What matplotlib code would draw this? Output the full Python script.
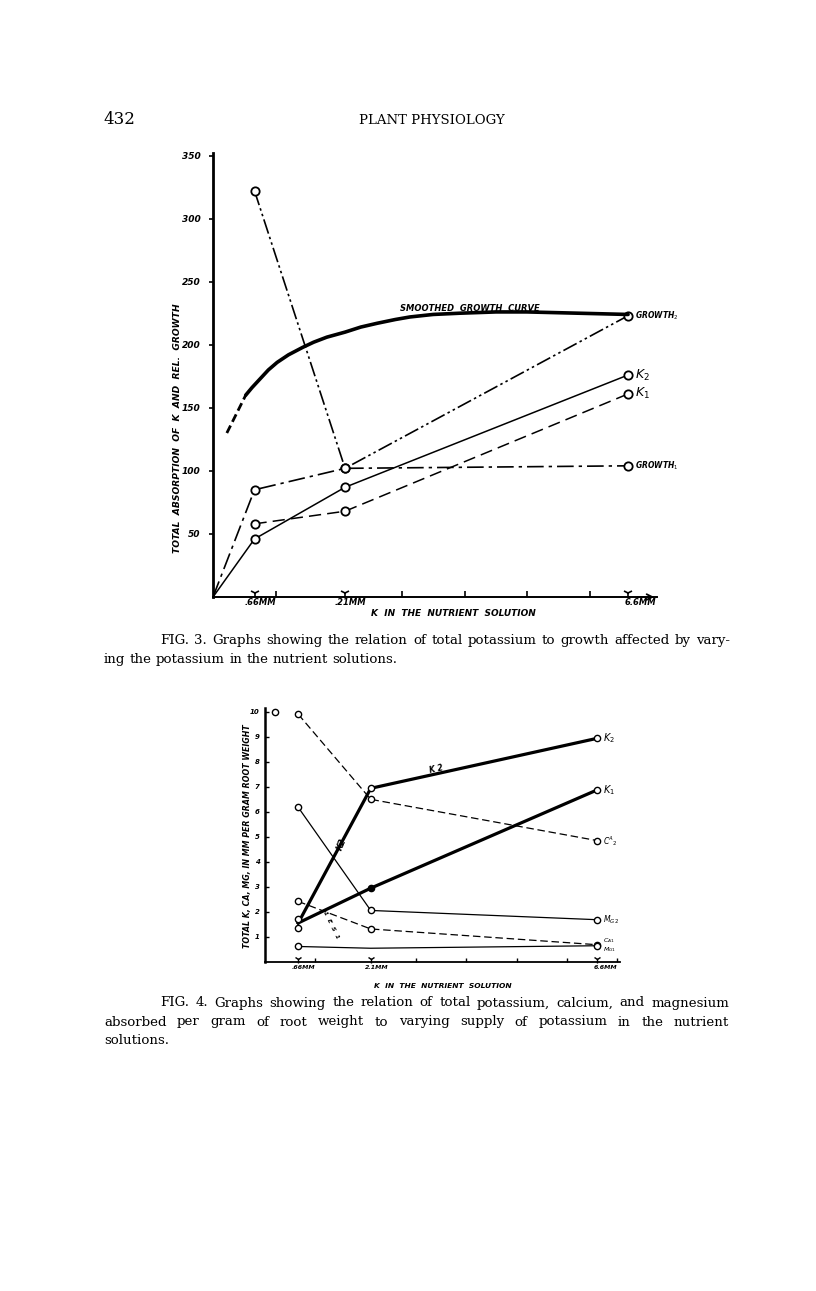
import numpy as np
import matplotlib
matplotlib.use("Agg")
import matplotlib.pyplot as plt
from matplotlib.transforms import ScaledTranslation

W, H = 816, 1291

# ---- Fig. 3 data: total absorption of K and relative growth ----
conc = [0.66, 2.1, 6.6]
conc_labels3 = [".66MM", ".21MM", "6.6MM"]
growth2 = [322, 102, 223]
growth1_x = [0, 0.66, 2.1, 6.6]
growth1 = [0, 85, 102, 104]
k2_x = [0, 0.66, 2.1, 6.6]
k2 = [0, 46, 87, 176]
k1 = [58, 68, 161]
smooth_x = [0.52, 0.62, 0.75, 0.88, 1.02, 1.2, 1.43, 1.6, 1.81, 2.1, 2.35, 2.61,
            2.9, 3.13, 3.5, 3.93, 4.5, 4.99, 5.8, 6.6]
smooth_y = [160, 166, 173, 180, 186, 192, 198, 202, 206, 210, 214, 217,
            220, 222, 224, 225, 226, 226, 225, 224]
smooth_dash_x = [0.22, 0.3, 0.38, 0.45, 0.52]
smooth_dash_y = [130, 138, 146, 153, 160]
yticks3 = [50, 100, 150, 200, 250, 300, 350]
xticks3 = [1, 3, 4, 5, 6]

# ---- Fig. 4 data: K, Ca, Mg per gram root weight ----
conc_labels4 = [".66MM", "2.1MM", "6.6MM"]
k2_root = [1.56, 6.94, 8.94]
k1_root = [1.56, 2.95, 6.88]
k_obs_066 = [1.7, 1.36]
ca2_root = [9.9, 6.5, 4.85]
ca1_root = [2.42, 1.32, 0.69]
mg2_root = [6.18, 2.06, 1.69]
mg1_root = [0.62, 0.55, 0.65]
stray_x, stray_y = [0.2], [10.0]
yticks4 = [1, 2, 3, 4, 5, 6, 7, 8, 9, 10]
xticks4 = [1, 3, 4, 5, 6, 7]

cap3 = ["FIG. 3.  Graphs showing the relation of total potassium to growth affected by vary-",
        "ing the potassium in the nutrient solutions."]
cap4 = ["FIG. 4.  Graphs showing the relation of total potassium, calcium, and magnesium",
        "absorbed per gram of root weight to varying supply of potassium in the nutrient",
        "solutions."]

hand = dict(family="DejaVu Sans", fontweight="bold", fontstyle="italic")
serif = dict(family="DejaVu Serif")


def fx(x):
    return x / W


def fy(y):
    return 1 - y / H


fig = plt.figure(figsize=(W / 100, H / 100), dpi=100)
fig.patch.set_facecolor("white")


def justify(line, x0, x1, y, size, last=False):
    r = fig.canvas.get_renderer()
    words = line.split()
    ts = [fig.text(0, fy(y), w, va="center", ha="left", fontsize=size, **serif) for w in words]
    ws = [t.get_window_extent(r).width for t in ts]
    if last or len(words) == 1:
        gap = size * 100 / 72 * 0.32
    else:
        gap = (x1 - x0 - sum(ws)) / (len(words) - 1)
    x = x0
    for t, w in zip(ts, ws):
        t.set_x(fx(x))
        x += w + gap


def style_axes(ax):
    for s in ["top", "right"]:
        ax.spines[s].set_visible(False)
    ax.set_facecolor("none")


# header
fig.text(fx(103), fy(119), "432", fontsize=12, va="center", ha="left", **serif)
fig.text(fx(432), fy(120), "PLANT PHYSIOLOGY", fontsize=9.5, va="center", ha="center", **serif)

# ================= Fig. 3 =================
ax3 = fig.add_axes([fx(213), fy(597), 444 / W, 444 / H])
style_axes(ax3)
ax3.set_xlim(0, 7.06)
ax3.set_ylim(0, 352)
ax3.spines["left"].set_linewidth(2.0)
ax3.spines["bottom"].set_linewidth(1.4)
ax3.set_yticks(yticks3)
ax3.set_yticklabels([str(v) for v in yticks3], fontsize=6.5, **hand)
ax3.tick_params(axis="y", direction="out", length=3, width=1.2, pad=6)
ax3.set_xticks(xticks3)
ax3.set_xticklabels([])
ax3.tick_params(axis="x", direction="in", length=4, width=1.2)
ax3.annotate("", xy=(1.0, 0), xytext=(0.95, 0), xycoords="axes fraction",
             arrowprops=dict(arrowstyle="->", lw=1.3, color="black"))

mk = dict(marker="o", mfc="white", mec="black", ms=6, mew=1.3, color="black")
ax3.plot(conc, growth2, ls=(0, (9, 2, 1.5, 2, 1.5, 2)), lw=1.2, **mk)
ax3.plot(growth1_x, growth1, ls=(0, (10, 3, 2, 3)), lw=1.2, markevery=[1, 2, 3], **mk)
ax3.plot(k2_x, k2, ls="-", lw=1.1, markevery=[1, 2, 3], **mk)
ax3.plot(conc, k1, ls=(0, (8, 4)), lw=1.1, **mk)
ax3.plot(smooth_x, smooth_y, color="black", lw=2.6, solid_capstyle="round",
         solid_joinstyle="round")
ax3.plot(smooth_dash_x, smooth_dash_y, color="black", lw=2.0, ls=(0, (3, 1.5)))

off3 = ScaledTranslation(0, 3 / 72, fig.dpi_scale_trans)
ax3.plot(conc, np.zeros(len(conc)), ls="none", marker="1", ms=7, mew=1.2,
         color="black", clip_on=False, transform=ax3.transData + off3)
for c, lab, dx in zip(conc, conc_labels3, [4, 4, 9]):
    ax3.annotate(lab, xy=(c, 0), xytext=(dx, -4), textcoords="offset points",
                 ha="center", va="center", fontsize=6, **hand)

ax3.text(4.09, 229, "SMOOTHED  GROWTH  CURVE", ha="center", va="center", fontsize=6, **hand)
ax3.annotate(r"GROWTH$_{2}$", xy=(6.6, growth2[2]), xytext=(5, 0), textcoords="offset points",
             ha="left", va="center", fontsize=5.5, **hand)
ax3.annotate(r"GROWTH$_{1}$", xy=(6.6, growth1[3]), xytext=(5, 0), textcoords="offset points",
             ha="left", va="center", fontsize=5.5, **hand)
ax3.annotate(r"K$_{2}$", xy=(6.6, k2[3]), xytext=(5, 0), textcoords="offset points",
             ha="left", va="center", fontsize=9, family="DejaVu Sans", fontstyle="italic")
ax3.annotate(r"K$_{1}$", xy=(6.6, k1[2]), xytext=(5, 0), textcoords="offset points",
             ha="left", va="center", fontsize=9, family="DejaVu Sans", fontstyle="italic")

fig.text(fx(178), fy(428), "TOTAL  ABSORPTION  OF  K  AND  REL.  GROWTH", rotation=90,
         ha="center", va="center", fontsize=6.6, **hand)
fig.text(fx(453), fy(613), "K  IN  THE  NUTRIENT  SOLUTION", ha="center", va="center",
         fontsize=6.5, **hand)

for i, line in enumerate(cap3):
    if i == 0:
        justify(line, 160, 730, 640, 9.6)
    else:
        justify(line, 104, 730, 659, 9.6, last=True)

# ================= Fig. 4 =================
ax4 = fig.add_axes([fx(265), fy(962), 355 / W, 254 / H])
style_axes(ax4)
ax4.set_xlim(0, 7.05)
ax4.set_ylim(0, 10.15)
ax4.spines["left"].set_linewidth(1.8)
ax4.spines["bottom"].set_linewidth(1.3)
ax4.set_yticks(yticks4)
ax4.set_yticklabels([str(v) for v in yticks4], fontsize=5, **hand)
ax4.tick_params(axis="y", direction="in", length=3, width=1.0, pad=4)
ax4.set_xticks(xticks4)
ax4.set_xticklabels([])
ax4.tick_params(axis="x", direction="in", length=3, width=1.0)

mk4 = dict(marker="o", mfc="white", mec="black", ms=4.5, mew=1.0, color="black")
ax4.plot(conc, k2_root, lw=2.3, markevery=[1, 2], **mk4)
ax4.plot(conc, k1_root, lw=2.3, markevery=[2], **mk4)
ax4.plot(conc[1], k1_root[1], ls="none", marker="o", ms=4.5, color="black")
ax4.plot([conc[0]] * len(k_obs_066), k_obs_066, ls="none", **mk4)
ax4.plot(conc, ca2_root, lw=0.9, ls=(0, (6, 3)), **mk4)
ax4.plot(conc, ca1_root, lw=0.9, ls=(0, (6, 3)), **mk4)
ax4.plot(conc, mg2_root, lw=0.9, **mk4)
ax4.plot(conc, mg1_root, lw=0.9, markevery=[0, 2], **mk4)
ax4.plot(stray_x, stray_y, ls="none", clip_on=False, **mk4)

off4 = ScaledTranslation(0, 2 / 72, fig.dpi_scale_trans)
ax4.plot(conc, np.zeros(len(conc)), ls="none", marker="1", ms=5.5, mew=1.0,
         color="black", clip_on=False, transform=ax4.transData + off4)
for c, lab, dx in zip(conc, conc_labels4, [4, 4, 6]):
    ax4.annotate(lab, xy=(c, 0), xytext=(dx, -4), textcoords="offset points",
                 ha="center", va="center", fontsize=4.5, **hand)

right4 = [(k2_root[2], r"K$_{2}$", 7), (k1_root[2], r"K$_{1}$", 7),
          (ca2_root[2], r"C$^{A}$$_{2}$", 5.5), (mg2_root[2], r"M$_{G}$$_{2}$", 5.5)]
for yv, lab, fs in right4:
    ax4.annotate(lab, xy=(6.6, yv), xytext=(4, 0), textcoords="offset points",
                 ha="left", va="center", fontsize=fs, family="DejaVu Sans", fontstyle="italic")
ax4.annotate(r"C$_{A1}$", xy=(6.6, ca1_root[2]), xytext=(4, 3), textcoords="offset points",
             ha="left", va="center", fontsize=4.5, family="DejaVu Sans", fontstyle="italic")
ax4.annotate(r"M$_{G1}$", xy=(6.6, mg1_root[2]), xytext=(4, -3), textcoords="offset points",
             ha="left", va="center", fontsize=4.5, family="DejaVu Sans", fontstyle="italic")
ax4.text(3.4, 7.7, "K 2", rotation=12, ha="center", va="center", fontsize=5.5, **hand)
ax4.text(1.52, 4.7, "K2", rotation=68, ha="center", va="center", fontsize=6, **hand)
ax4.text(1.32, 1.5, "1  E  S  1", rotation=-64, ha="center", va="center", fontsize=4.5, **hand)

fig.text(fx(248), fy(836), "TOTAL K, CA, MG, IN MM PER GRAM ROOT WEIGHT", rotation=90,
         ha="center", va="center", fontsize=5.7, **hand)
fig.text(fx(443), fy(986), "K  IN  THE  NUTRIENT  SOLUTION", ha="center", va="center",
         fontsize=5.4, **hand)

for i, line in enumerate(cap4):
    y = 1003 + 19 * i
    if i == 0:
        justify(line, 160, 729, y, 9.6)
    elif i == 1:
        justify(line, 104, 729, y, 9.6)
    else:
        justify(line, 104, 729, y, 9.6, last=True)

fig.savefig("out.png", dpi=100, facecolor="white")
